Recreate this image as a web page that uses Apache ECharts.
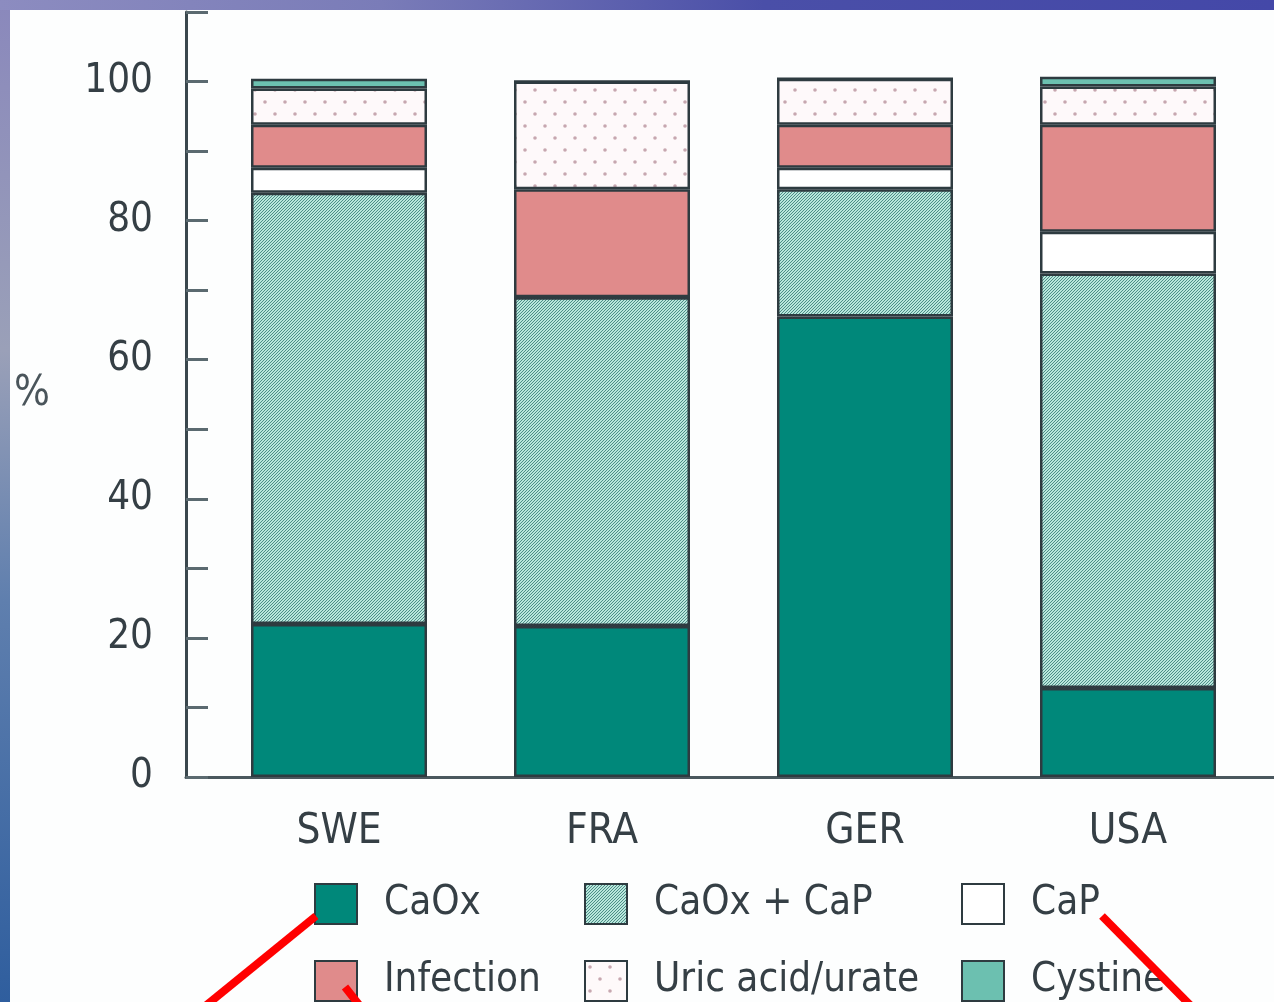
<!DOCTYPE html>
<html>
<head>
<meta charset="utf-8">
<script src="https://cdn.jsdelivr.net/npm/echarts@6/dist/echarts.min.js"></script>
<style>
html,body{margin:0;padding:0;width:1274px;height:1002px;overflow:hidden;}
body{background:linear-gradient(180deg,#8a88bc 0%,#9aa0b8 35%,#5f7fae 60%,#2f5e9e 100%);position:relative;}
#topstrip{position:absolute;left:0;top:0;width:1274px;height:10px;background:linear-gradient(90deg,#8c8cc0 0%,#7a7cb8 30%,#4a4fa8 60%,#4448a8 100%);}
#paper{position:absolute;left:10px;top:10px;width:1264px;height:992px;background:#fdfefe;}
#chart{position:absolute;left:0;top:0;width:1274px;height:1002px;}
</style>
</head>
<body>
<div id="topstrip"></div>
<div id="paper"></div>
<div id="chart"></div>
<script>
const categories = ['SWE', 'FRA', 'GER', 'USA'];
const caOx      = [22, 21.7, 66.2, 12.8];
const caOxCaP   = [62, 47.3, 18.3, 59.6];
const caP       = [3.6, 0, 3.1, 6];
const infection = [6.2, 15.5, 6.2, 15.4];
const uricAcid  = [5.2, 15.5, 6.6, 5.5];
const cystine   = [1.4, 0, 0, 1.4];
const yTickLabels = [0, 20, 40, 60, 80, 100];

function hatchPattern() {
  const c = document.createElement('canvas');
  c.width = 3; c.height = 3;
  const g = c.getContext('2d');
  g.fillStyle = '#b9e6dc';
  g.fillRect(0, 0, 3, 3);
  g.fillStyle = '#4c8e86';
  g.fillRect(2, 0, 1, 1);
  g.fillRect(1, 1, 1, 1);
  g.fillRect(0, 2, 1, 1);
  return c;
}
function dotPattern() {
  const c = document.createElement('canvas');
  c.width = 20; c.height = 24;
  const g = c.getContext('2d');
  g.fillStyle = '#fef9fa';
  g.fillRect(0, 0, 20, 24);
  g.fillStyle = '#c7a7b0';
  [[5, 6], [15, 18]].forEach(p => {
    g.beginPath(); g.arc(p[0], p[1], 1.8, 0, Math.PI * 2); g.fill();
  });
  return c;
}

const FONT = '"DejaVu Sans Condensed", "Liberation Sans Narrow", "DejaVu Sans", sans-serif';
const TXT = '#353f45';
const BORDER = '#2e3b40';

const seriesDefs = [
  { name: 'CaOx', data: caOx, color: '#00887a' },
  { name: 'CaOx + CaP', data: caOxCaP, color: { image: hatchPattern(), repeat: 'repeat' } },
  { name: 'CaP', data: caP, color: '#ffffff' },
  { name: 'Infection', data: infection, color: '#e08b8b' },
  { name: 'Uric acid/urate', data: uricAcid, color: { image: dotPattern(), repeat: 'repeat' } },
  { name: 'Cystine', data: cystine, color: '#6cc0b0' }
];

const chart = echarts.init(document.getElementById('chart'), null, { renderer: 'canvas' });

function legendCol(names, left) {
  return {
    orient: 'vertical',
    left: left,
    top: 883,
    data: names,
    icon: 'rect',
    itemWidth: 42,
    itemHeight: 40,
    itemGap: 35,
    selectedMode: false,
    padding: 0,
    textStyle: { fontFamily: FONT, fontSize: 40, color: TXT, lineHeight: 40, padding: [0, 0, 0, 22] }
  };
}

const option = {
  animation: false,
  backgroundColor: 'transparent',
  grid: [
    { left: 207.5, width: 1052, top: 12, height: 765 },
    { left: 186, right: 0, top: 12, height: 765 }
  ],
  legend: [
    legendCol(['CaOx', 'Infection'], 314),
    legendCol(['CaOx + CaP', 'Uric acid/urate'], 584),
    legendCol(['CaP', 'Cystine'], 961)
  ],
  xAxis: [
    {
      type: 'category', gridIndex: 0, data: categories,
      axisLine: { show: false }, axisTick: { show: false },
      axisLabel: { fontFamily: FONT, fontSize: 42, color: TXT, margin: 34 }
    },
    {
      type: 'value', gridIndex: 1, min: 0, max: 1,
      axisLine: { show: true, lineStyle: { color: '#4a585e', width: 3 } },
      axisTick: { show: false }, axisLabel: { show: false }, splitLine: { show: false }
    }
  ],
  yAxis: [
    {
      type: 'value', gridIndex: 0, min: 0, max: 110, interval: 10, offset: 21.5,
      name: '%', nameLocation: 'middle', nameRotate: 0, nameGap: 136,
      nameTextStyle: { fontFamily: FONT, fontSize: 42, color: '#4a555b' },
      axisLine: { show: true, lineStyle: { color: '#3a474d', width: 3 } },
      axisTick: { show: true, inside: true, length: 22, lineStyle: { color: '#5b6a70', width: 3 } },
      axisLabel: {
        fontFamily: FONT, fontSize: 40, color: TXT, margin: 33,
        formatter: v => (yTickLabels.indexOf(v) >= 0 ? String(v) : '')
      },
      splitLine: { show: false }
    },
    { type: 'value', gridIndex: 1, min: 0, max: 1, show: false }
  ],
  series: seriesDefs.map(s => ({
    name: s.name,
    type: 'bar',
    stack: 'total',
    xAxisIndex: 0,
    yAxisIndex: 0,
    barWidth: 176,
    data: s.data,
    itemStyle: { color: s.color, borderColor: BORDER, borderWidth: 2.5 },
    emphasis: { disabled: true }
  })),
  graphic: [
    { type: 'line', z: 100, shape: { x1: 316, y1: 916, x2: 198, y2: 1012 }, style: { stroke: '#ff0000', lineWidth: 8 } },
    { type: 'line', z: 100, shape: { x1: 345, y1: 987, x2: 360, y2: 1006 }, style: { stroke: '#ff0000', lineWidth: 8 } },
    { type: 'line', z: 100, shape: { x1: 1102, y1: 916, x2: 1197, y2: 1012 }, style: { stroke: '#ff0000', lineWidth: 8 } }
  ]
};
chart.setOption(option);
</script>
</body>
</html>
